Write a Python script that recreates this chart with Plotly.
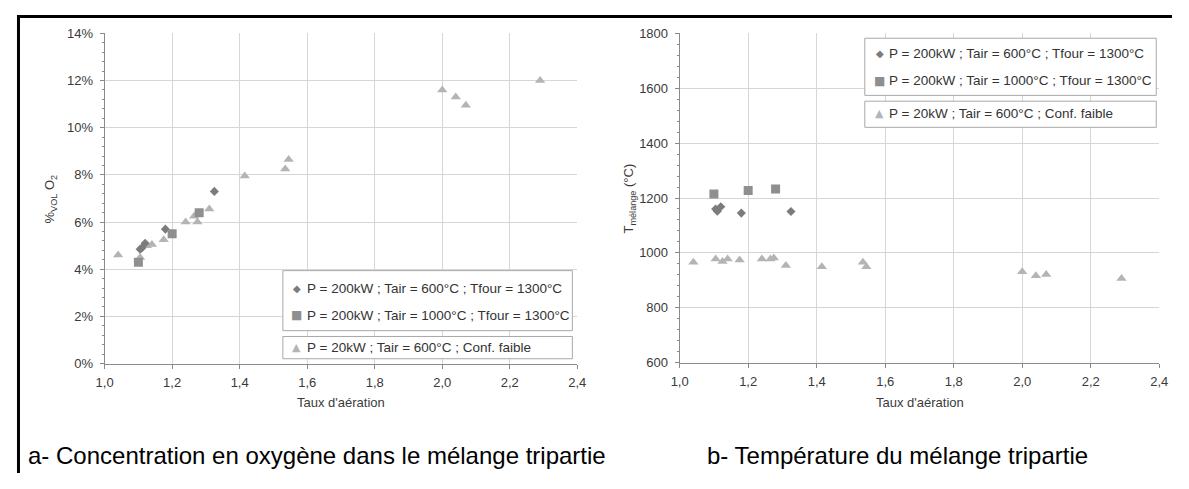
import plotly.graph_objects as go

# Data (x = taux d'aération)
ratio_d = [1.105, 1.11, 1.12, 1.18, 1.325]
o2_d = [4.85, 4.9, 5.1, 5.7, 7.3]
temp_d = [1160, 1152, 1168, 1145, 1151]

ratio_s = [1.10, 1.20, 1.28]
o2_s = [4.3, 5.5, 6.4]
temp_s = [1215, 1227, 1233]

ratio_t = [1.04, 1.105, 1.125, 1.14, 1.175, 1.24, 1.265, 1.275, 1.31, 1.415, 1.535, 1.545, 2.00, 2.04, 2.07, 2.29]
o2_t = [4.6, 4.5, 5.0, 5.05, 5.25, 6.0, 6.25, 6.0, 6.55, 7.95, 8.25, 8.65, 11.6, 11.3, 10.95, 12.0]
temp_t = [966, 978, 969, 978, 974, 978, 978, 981, 954, 949, 966, 949, 931, 917, 921, 907]

names = [
    "P = 200kW ; Tair = 600°C ; Tfour = 1300°C",
    "P = 200kW ; Tair = 1000°C ; Tfour = 1300°C",
    "P = 20kW ; Tair = 600°C ; Conf. faible",
]

# the page body has an 8px margin: keep the figure inside the window (no scrollbars)
OFF = 8
W, H = 1189 - 2 * OFF, 489 - 2 * OFF
FONT = "Arial, Liberation Sans, sans-serif"
C_D, C_S, C_T = "#7c7c7c", "#8f8f8f", "#b4b4b4"


def px(x):
    return (x - OFF) / W


def py(y):
    return 1 - (y - OFF) / H


fig = go.Figure()

# left panel: O2
fig.add_trace(go.Scatter(x=ratio_t, y=o2_t, mode="markers", name=names[2],
                         marker=dict(symbol="triangle-up", size=9, color=C_T), xaxis="x", yaxis="y"))
fig.add_trace(go.Scatter(x=ratio_d, y=o2_d, mode="markers", name=names[0],
                         marker=dict(symbol="diamond", size=7, color=C_D), xaxis="x", yaxis="y"))
fig.add_trace(go.Scatter(x=ratio_s, y=o2_s, mode="markers", name=names[1],
                         marker=dict(symbol="square", size=9, color=C_S), xaxis="x", yaxis="y"))

# right panel: temperature
fig.add_trace(go.Scatter(x=ratio_t, y=temp_t, mode="markers", name=names[2],
                         marker=dict(symbol="triangle-up", size=9, color=C_T), xaxis="x2", yaxis="y2"))
fig.add_trace(go.Scatter(x=ratio_d, y=temp_d, mode="markers", name=names[0],
                         marker=dict(symbol="diamond", size=7, color=C_D), xaxis="x2", yaxis="y2"))
fig.add_trace(go.Scatter(x=ratio_s, y=temp_s, mode="markers", name=names[1],
                         marker=dict(symbol="square", size=9, color=C_S), xaxis="x2", yaxis="y2"))

tickfont = dict(family=FONT, size=13, color="#3a3a3a")
common_x = dict(range=[1.0, 2.4], dtick=0.2, tick0=1.0, tickformat=".1f", showgrid=True,
                gridcolor="#d6d6d6", showline=True, linecolor="#8a8a8a", ticks="outside",
                ticklen=4, tickcolor="#8a8a8a", tickfont=tickfont, zeroline=False,
                ticklabelstandoff=3, fixedrange=True)
common_y = dict(showgrid=True, gridcolor="#d6d6d6", showline=True, linecolor="#8a8a8a",
                ticks="outside", ticklen=4, tickcolor="#8a8a8a", tickfont=tickfont,
                zeroline=False, ticklabelstandoff=4, fixedrange=True)

fig.update_layout(
    width=W, height=H,
    margin=dict(l=0, r=0, t=0, b=0),
    paper_bgcolor="white", plot_bgcolor="white",
    separators=", ",
    showlegend=False,
    xaxis=dict(domain=[px(97), px(577)], anchor="y", **common_x),
    yaxis=dict(domain=[py(368), py(27)], anchor="x", range=[0, 14], dtick=2, ticksuffix="%",
               minor=dict(dtick=0.4, ticks="outside", ticklen=2, tickcolor="#8a8a8a", showgrid=False),
               **common_y),
    xaxis2=dict(domain=[px(681), px(1168)], anchor="y2", **common_x),
    yaxis2=dict(domain=[py(367), py(27)], anchor="x2", range=[600, 1800], dtick=200,
                minor=dict(dtick=40, ticks="outside", ticklen=2, tickcolor="#8a8a8a", showgrid=False),
                **common_y),
)

shapes = []
annotations = []

# outer frame (top and left edges)
shapes.append(dict(type="line", xref="paper", yref="paper", x0=0, x1=1, y0=py(9.5), y1=py(9.5),
                   line=dict(color="black", width=3)))
shapes.append(dict(type="line", xref="paper", yref="paper", x0=px(9.5), x1=px(9.5), y0=0, y1=1,
                   line=dict(color="black", width=3)))

# legend boxes drawn by hand, as in the original figure
legend_boxes = [
    ((278, 272, 572, 334), 300, [(290, names[0], "◆", C_D, 10), (318, names[1], "■", C_S, 12)]),
    ((278, 340, 572, 363), 300, [(351, names[2], "▲", C_T, 11)]),
    ((869, 32, 1165, 91), 892, [(48, names[0], "◆", C_D, 10), (76, names[1], "■", C_S, 12)]),
    ((869, 97, 1165, 124), 892, [(110, names[2], "▲", C_T, 11)]),
]
for (x0, y0, x1, y1), tx, rows in legend_boxes:
    shapes.append(dict(type="rect", xref="paper", yref="paper", layer="above",
                       x0=px(x0), x1=px(x1), y0=py(y1), y1=py(y0),
                       fillcolor="white", line=dict(color="#a8a8a8", width=1)))
    for ty, label, sym, col, sz in rows:
        annotations.append(dict(x=px(tx - 8), y=py(ty), xref="paper", yref="paper", text=sym,
                                showarrow=False, xanchor="center", yanchor="middle",
                                font=dict(family="DejaVu Sans", size=sz, color=col)))
        annotations.append(dict(x=px(tx), y=py(ty), xref="paper", yref="paper", text=label,
                                showarrow=False, xanchor="left", yanchor="middle",
                                font=dict(family=FONT, size=13.5, color="#333333")))

# axis titles
title_font = dict(family=FONT, size=13, color="#3a3a3a")
annotations += [
    dict(x=px(337), y=py(408), text="Taux d'aération", textangle=0),
    dict(x=px(925), y=py(408), text="Taux d'aération", textangle=0),
    dict(x=px(43), y=py(198), text="%<sub>VOL</sub> O<sub>2</sub>", textangle=-90),
    dict(x=px(630), y=py(197), text="T<sub>mélange</sub> (°C)", textangle=-90),
]
for a in annotations[-4:]:
    a.update(xref="paper", yref="paper", xanchor="center", yanchor="middle",
             showarrow=False, font=title_font)

# captions
cap_font = dict(family=FONT, size=24, color="black")
annotations += [
    dict(x=px(17), y=py(463), xref="paper", yref="paper", xanchor="left", yanchor="middle",
         text="a- Concentration en oxygène dans le mélange tripartie", showarrow=False, font=cap_font),
    dict(x=px(707), y=py(463), xref="paper", yref="paper", xanchor="left", yanchor="middle",
         text="b- Température du mélange tripartie", showarrow=False, font=cap_font),
]

fig.update_layout(shapes=shapes, annotations=annotations)

fig.write_html("out.html")
